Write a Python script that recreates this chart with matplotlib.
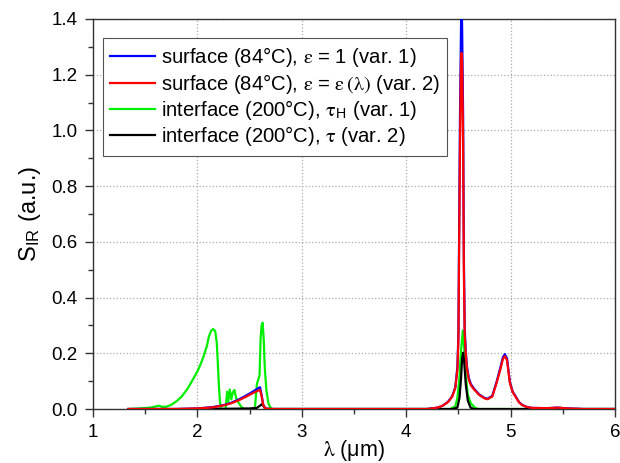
import matplotlib
matplotlib.use("Agg")
import matplotlib.pyplot as plt
from matplotlib.ticker import MultipleLocator

plt.rcParams['font.family'] = ['Liberation Sans', 'DejaVu Sans']
plt.rcParams['mathtext.fontset'] = 'stix'

# surface, eps = 1 (var. 1)
blue_x = [1.34, 1.8, 2.0, 2.15, 2.25, 2.32, 2.40, 2.46, 2.52, 2.57, 2.60, 2.615, 2.63, 2.65, 2.7,
          4.2, 4.30, 4.35, 4.40, 4.44, 4.47, 4.49, 4.50, 4.505, 4.515, 4.525, 4.53, 4.535, 4.545, 4.552, 4.56,
          4.57, 4.58, 4.60, 4.62, 4.65, 4.70, 4.75, 4.78, 4.80, 4.824, 4.865, 4.90, 4.925, 4.944, 4.965,
          4.993, 5.02, 5.047, 5.08, 5.11, 5.15, 5.2, 5.35, 5.45, 5.55, 5.7, 6.0]
blue_y = [0.0, 0.0, 0.002, 0.007, 0.014, 0.022, 0.035, 0.047, 0.06, 0.072, 0.078, 0.05, 0.016, 0.002, 0.0,
          0.0, 0.005, 0.012, 0.026, 0.046, 0.078, 0.15, 0.27, 0.55, 1.05, 1.38, 1.46, 1.38, 1.05, 0.55, 0.29,
          0.21, 0.157, 0.11, 0.089, 0.073, 0.052, 0.04, 0.037, 0.042, 0.047, 0.097, 0.146, 0.185, 0.197, 0.182,
          0.097, 0.062, 0.046, 0.025, 0.015, 0.008, 0.004, 0.003, 0.005, 0.002, 0.0, 0.0]

# surface, eps = eps(lambda) (var. 2)
red_x = blue_x
red_y = [0.0, 0.0, 0.002, 0.006, 0.013, 0.02, 0.032, 0.043, 0.055, 0.064, 0.069, 0.045, 0.015, 0.002, 0.0,
         0.0, 0.005, 0.012, 0.025, 0.044, 0.075, 0.14, 0.25, 0.5, 0.95, 1.25, 1.278, 1.25, 0.95, 0.5, 0.27,
         0.20, 0.15, 0.105, 0.085, 0.07, 0.05, 0.038, 0.035, 0.04, 0.044, 0.093, 0.14, 0.178, 0.19, 0.175,
         0.093, 0.06, 0.044, 0.024, 0.014, 0.008, 0.004, 0.003, 0.005, 0.002, 0.0, 0.0]

# interface, tau_H (var. 1)
green_x = [1.34, 1.45, 1.55, 1.60, 1.63, 1.66, 1.70, 1.75, 1.80, 1.85, 1.90, 1.94, 1.97, 2.00, 2.03, 2.06,
           2.09, 2.11, 2.13, 2.15, 2.17, 2.185, 2.195, 2.205, 2.215, 2.225, 2.27, 2.285, 2.295, 2.31, 2.325,
           2.34, 2.355, 2.37, 2.39, 2.42, 2.45, 2.55, 2.57, 2.595, 2.605, 2.615, 2.625, 2.635, 2.645, 2.66,
           2.68, 2.70, 2.72, 4.42, 4.47, 4.49, 4.51, 4.525, 4.542, 4.555, 4.57, 4.59, 4.62, 4.664, 4.70, 6.0]
green_y = [0.0, 0.002, 0.005, 0.009, 0.012, 0.008, 0.008, 0.015, 0.028, 0.045, 0.07, 0.095, 0.115, 0.135, 0.16, 0.19,
           0.225, 0.26, 0.28, 0.287, 0.28, 0.24, 0.17, 0.09, 0.03, 0.0, 0.0, 0.062, 0.026, 0.07, 0.035,
           0.06, 0.068, 0.04, 0.025, 0.008, 0.0, 0.0, 0.09, 0.12, 0.25, 0.30, 0.31, 0.25, 0.15, 0.07,
           0.02, 0.005, 0.0, 0.0, 0.01, 0.04, 0.11, 0.21, 0.282, 0.22, 0.12, 0.05, 0.02, 0.003, 0.0, 0.0]

# interface, tau (var. 2)
black_x = [1.34, 2.0, 2.3, 2.5, 2.57, 2.60, 2.62, 2.64, 2.66, 4.44, 4.49, 4.51, 4.525, 4.535, 4.545,
           4.555, 4.57, 4.59, 4.616, 4.65, 6.0]
black_y = [0.0, 0.0, 0.001, 0.002, 0.004, 0.012, 0.018, 0.006, 0.0, 0.0, 0.005, 0.04, 0.11, 0.18, 0.202,
           0.17, 0.09, 0.03, 0.005, 0.0, 0.0]

labels = ["surface (84°C), $\\mathrm{\\varepsilon}$ = 1 (var. 1)",
          "surface (84°C), $\\mathrm{\\varepsilon}$ = $\\mathrm{\\varepsilon\\,(\\lambda)}$ (var. 2)",
          "interface (200°C), $\\mathrm{\\tau}_\\mathregular{H}$ (var. 1)",
          "interface (200°C), $\\mathrm{\\tau}$ (var. 2)"]

fig = plt.figure(figsize=(6.2, 4.63), dpi=100)
ax = fig.add_axes([0.15, 0.1166, 0.842, 0.8424])

lg, = ax.plot(green_x, green_y, color='#00ee00', lw=1.6, zorder=2)
lk, = ax.plot(black_x, black_y, color='black', lw=1.6, zorder=3)
lb, = ax.plot(blue_x, blue_y, color='#0000ff', lw=1.6, zorder=4)
lr, = ax.plot(red_x, red_y, color='#ff0000', lw=1.6, zorder=5)

ax.set_xlim(1, 6)
ax.set_ylim(0, 1.4)
ax.xaxis.set_major_locator(MultipleLocator(1))
ax.xaxis.set_minor_locator(MultipleLocator(0.5))
ax.yaxis.set_major_locator(MultipleLocator(0.2))
ax.yaxis.set_minor_locator(MultipleLocator(0.1))
ax.yaxis.set_major_formatter(plt.FormatStrFormatter('%.1f'))
ax.tick_params(which='both', direction='out', labelsize=13.5, color='#333333', pad=5)
ax.tick_params(which='major', length=6, width=1.0)
ax.tick_params(which='minor', length=3.5, width=1.0)
ax.grid(True, which='major', linestyle=':', color='#aaaaaa', linewidth=0.9)
for s in ax.spines.values():
    s.set_linewidth(1.0)
    s.set_color('#333333')

ax.set_xlabel("$\\mathrm{\\lambda}$ (μm)", fontsize=15.5)
ax.xaxis.set_label_coords(0.5, -0.075)
ax.set_ylabel("S$_\\mathregular{IR}$ (a.u.)", fontsize=17, labelpad=6)

leg = ax.legend([lb, lr, lg, lk], labels, loc='upper left', bbox_to_anchor=(0.019, 0.951),
                borderaxespad=0, fontsize=14.6, fancybox=False, framealpha=1,
                edgecolor='#555555', handlelength=2.2, handletextpad=0.3, labelspacing=0.12,
                borderpad=0.35)
leg.get_frame().set_linewidth(0.8)

fig.savefig("out.png", dpi=100)
